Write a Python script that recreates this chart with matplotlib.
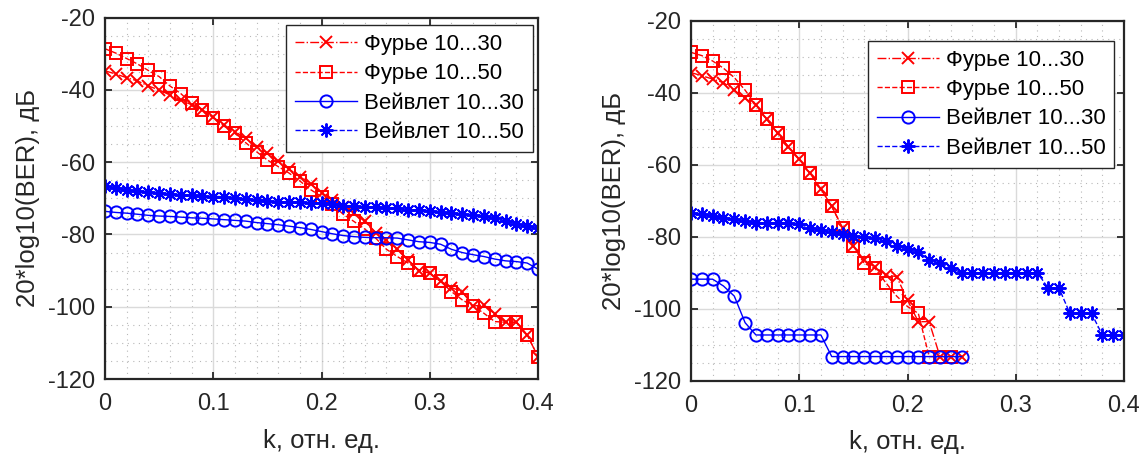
import numpy as np
import matplotlib
matplotlib.use("Agg")
import matplotlib.pyplot as plt
from matplotlib.ticker import MultipleLocator

plt.rcParams['font.family'] = ['Liberation Sans', 'DejaVu Sans']

# ---------------- data ----------------
k41 = [round(0.01 * i, 2) for i in range(41)]

# left panel
left_fourier30 = [-34.7, -35.6, -36.6, -37.5, -38.9, -40.0, -41.4, -42.8, -44.1, -45.5,
                  -47.6, -49.7, -51.5, -53.4, -55.7, -57.5, -59.8, -61.9, -64.0, -66.0,
                  -68.4, -70.4, -72.3, -74.1, -76.4, -79.5, -81.5, -84.1, -87.0, -90.0,
                  -90.7, -93.0, -94.7, -95.8, -99.8, -99.5, -102.0, -104.3, -104.3, -107.8,
                  -113.8]
left_fourier50 = [-28.6, -29.8, -31.3, -32.8, -34.6, -36.3, -38.9, -41.0, -43.7, -45.5,
                  -47.7, -50.0, -52.0, -54.6, -57.1, -59.4, -61.2, -63.0, -65.2, -67.6,
                  -69.5, -71.6, -74.4, -76.4, -78.5, -81.0, -84.1, -86.1, -87.9, -89.8,
                  -90.7, -93.0, -95.8, -98.1, -99.8, -101.8, -104.1, -104.3, -104.3, -107.8,
                  -113.8]
left_wavelet30 = [-73.6, -73.9, -74.1, -74.4, -74.7, -74.9, -75.0, -75.2, -75.4, -75.5,
                  -75.7, -75.9, -76.1, -76.3, -76.7, -77.0, -77.3, -77.7, -78.1, -78.6,
                  -79.2, -79.8, -80.3, -80.6, -80.8, -80.9, -80.9, -81.0, -81.5, -82.0,
                  -82.2, -82.7, -84.1, -85.0, -85.6, -86.1, -86.8, -87.3, -87.5, -87.9,
                  -89.6]
left_wavelet50 = [-66.5, -67.2, -67.7, -67.9, -68.3, -68.6, -68.8, -69.0, -69.2, -69.3,
                  -69.5, -69.5, -69.8, -70.2, -70.4, -70.6, -70.9, -71.0, -71.1, -71.2,
                  -71.3, -71.6, -72.0, -72.1, -72.4, -72.4, -72.7, -72.7, -73.2, -73.2,
                  -73.5, -73.8, -74.1, -74.4, -74.7, -75.0, -75.5, -76.2, -77.1, -77.6,
                  -78.1]

# right panel
right_k_fourier30 = k41[:26]
right_fourier30 = [-34.4, -35.3, -36.2, -37.2, -39.3, -41.6, -43.4, -47.4, -51.3, -55.0,
                   -58.5, -62.4, -66.7, -71.6, -77.5, -82.6, -86.5, -88.5, -90.6, -91.1,
                   -97.6, -103.6, -103.6, -113.3, -113.3, -113.3]
right_k_fourier50 = k41[:25]
right_fourier50 = [-28.8, -29.7, -31.2, -33.2, -35.8, -39.3, -43.4, -47.4, -51.3, -55.0,
                   -58.5, -62.4, -66.7, -71.6, -77.5, -82.6, -87.4, -88.8, -92.8, -96.5,
                   -99.4, -101.3, -113.3, -113.3, -113.3]
right_k_wavelet30 = k41[:26]
right_wavelet30 = [-91.8, -91.8, -91.8, -93.7, -96.5, -103.9, -107.3, -107.3, -107.3, -107.3,
                   -107.3, -107.3, -107.3, -113.3, -113.3, -113.3, -113.3, -113.3, -113.3, -113.3,
                   -113.3, -113.3, -113.3, -113.3, -113.3, -113.3]
right_wavelet50 = [-73.5, -73.8, -74.2, -74.7, -75.2, -75.6, -76.1, -76.1, -76.1, -76.1,
                   -76.6, -77.5, -78.1, -78.8, -79.3, -79.8, -80.2, -80.4, -81.3, -82.5,
                   -83.3, -84.2, -86.5, -87.3, -88.8, -90.0, -90.0, -90.0, -90.0, -90.0,
                   -90.0, -90.0, -90.0, -94.3, -94.3, -101.3, -101.3, -101.3, -107.3, -107.3,
                   -107.3]

labels = ['Фурье 10...30', 'Фурье 10...50', 'Вейвлет 10...30', 'Вейвлет 10...50']
xticks = [0, 0.1, 0.2, 0.3, 0.4]
xticklabels = ['0', '0.1', '0.2', '0.3', '0.4']
yticks = [-120, -100, -80, -60, -40, -20]
xlabel = 'k, отн. ед.'
ylabel = '20*log10(BER), дБ'

# ---------------- figure ----------------
W, H = 1144, 454
fig = plt.figure(figsize=(W / 100, H / 100), dpi=100)

ax_l = fig.add_axes([105 / W, 1 - 379 / H, 433 / W, (379 - 17.7) / H])
ax_r = fig.add_axes([691 / W, 1 - 380.7 / H, 433 / W, (380.7 - 20.7) / H])

RED = (1, 0, 0)
BLUE = (0, 0, 1)
ast = (8, 2, 0)
DARK = '#262626'


def draw(ax, series, anchor_px):
    styles = [
        dict(color=RED, ls='-.', marker='x', ms=8.5, mew=1.4),
        dict(color=RED, ls='--', marker='s', ms=8.8, mew=1.4, mfc='none'),
        dict(color=BLUE, ls='-', marker='o', ms=8.8, mew=1.4, mfc='none'),
        dict(color=BLUE, ls='--', marker=ast, ms=10, mew=1.4),
    ]
    for (xs, ys), st, lab in zip(series, styles, labels):
        ax.plot(xs, ys, lw=1.0, label=lab, **st)
    ax.set_xlim(0, 0.4)
    ax.set_ylim(-120, -20)
    ax.set_xticks(xticks)
    ax.set_xticklabels(xticklabels)
    ax.set_yticks(yticks)
    ax.set_yticklabels([str(v) for v in yticks])
    ax.xaxis.set_minor_locator(MultipleLocator(0.02))
    ax.yaxis.set_minor_locator(MultipleLocator(5))
    ax.grid(True, which='major', color='#dadada', lw=1.0, ls='-')
    ax.grid(True, which='minor', color='#b8b8b8', lw=0.8, ls=(0, (1, 4)))
    ax.set_axisbelow(True)
    ax.tick_params(which='major', direction='in', length=5, width=1.3,
                   top=True, right=True, labelsize=17, colors=DARK)
    ax.tick_params(axis='x', which='major', pad=10)
    ax.tick_params(axis='y', which='major', pad=7)
    ax.tick_params(which='minor', length=0, top=True, right=True)
    for s in ax.spines.values():
        s.set_linewidth(1.6)
        s.set_color(DARK)
    ax.set_xlabel(xlabel, fontsize=18.5, color=DARK, labelpad=10)
    ax.set_ylabel(ylabel, fontsize=18.5, color=DARK, labelpad=6)
    leg = ax.legend(loc='upper right',
                    bbox_to_anchor=(anchor_px[0] / W, 1 - anchor_px[1] / H),
                    bbox_transform=fig.transFigure,
                    fontsize=16, handlelength=2.8, handletextpad=0.3,
                    borderpad=0.4, labelspacing=0.38, borderaxespad=0,
                    fancybox=False, framealpha=1, edgecolor=DARK)
    leg.get_frame().set_linewidth(1.0)


draw(ax_l, [(k41, left_fourier30), (k41, left_fourier50),
            (k41, left_wavelet30), (k41, left_wavelet50)],
     (532.7, 25))
draw(ax_r, [(right_k_fourier30, right_fourier30), (right_k_fourier50, right_fourier50),
            (right_k_wavelet30, right_wavelet30), (k41, right_wavelet50)],
     (1114.3, 40.7))

fig.savefig('out.png', dpi=100)
